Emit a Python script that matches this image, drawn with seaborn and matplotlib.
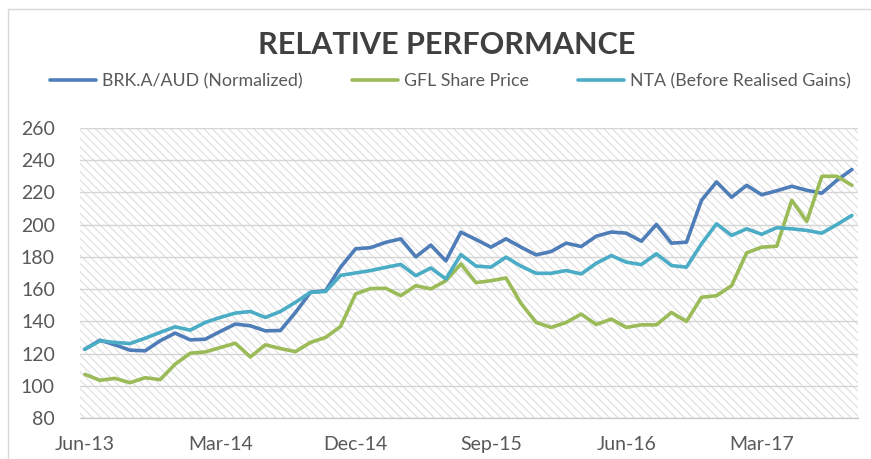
import numpy as np
import pandas as pd
import matplotlib
matplotlib.use("Agg")
import matplotlib.pyplot as plt
import seaborn as sns
from matplotlib.patches import Rectangle
from matplotlib.lines import Line2D

# ---------------------------------------------------------------------------
# Datos (mensuales, Jun-13 .. Sep-17)
# ---------------------------------------------------------------------------
series_names = ["BRK.A/AUD (Normalized)", "GFL Share Price", "NTA (Before Realised Gains)"]

brk = [122.7, 128.3, 125.4, 122.1, 121.7, 127.9, 132.7, 128.5, 128.9, 133.7,
       138.3, 137.2, 134.1, 134.3, 145.5, 158.0, 159.0, 173.6, 185.0, 185.7,
       189.0, 191.2, 180.0, 187.3, 177.5, 195.3, 190.8, 186.0, 191.2, 186.0,
       181.2, 183.3, 188.5, 186.4, 192.8, 195.4, 194.7, 189.7, 200.1, 188.5,
       189.1, 215.1, 226.5, 217.0, 224.4, 218.5, 221.0, 223.8, 221.3, 219.5,
       227.5, 234.2]

gfl = [107.1, 103.4, 104.6, 101.9, 105.0, 103.8, 113.4, 120.2, 121.0, 123.7,
       126.4, 117.9, 125.4, 123.1, 121.2, 126.9, 130.0, 136.8, 157.0, 160.3,
       160.5, 155.9, 162.1, 160.1, 165.2, 175.6, 164.0, 165.2, 166.9, 151.1,
       139.3, 136.2, 139.3, 144.5, 138.0, 141.4, 136.2, 137.8, 137.8, 145.5,
       139.9, 154.9, 155.9, 162.1, 182.5, 186.0, 186.6, 215.1, 202.0, 230.0,
       230.0, 224.4]

nta = [122.7, 127.9, 126.9, 126.2, 129.5, 133.1, 136.6, 134.5, 139.3, 142.4,
       145.1, 146.1, 142.4, 146.1, 151.8, 158.0, 158.5, 168.5, 170.0, 171.5,
       173.5, 175.3, 168.3, 173.1, 166.3, 181.4, 174.3, 173.6, 179.8, 174.2,
       169.8, 169.8, 171.5, 169.4, 176.0, 180.8, 176.7, 175.2, 181.9, 174.6,
       173.6, 188.1, 200.5, 193.3, 197.4, 194.0, 198.1, 197.4, 196.4, 194.7,
       200.0, 205.7]

tick_months = [0, 9, 18, 27, 36, 45]
tick_labels = ["Jun-13", "Mar-14", "Dec-14", "Sep-15", "Jun-16", "Mar-17"]
y_ticks = list(range(80, 261, 20))

colores = {"BRK.A/AUD (Normalized)": "#4F7DB8",
           "GFL Share Price": "#9BBB59",
           "NTA (Before Realised Gains)": "#4BACC6"}

# tabla larga para seaborn
meses = np.arange(len(brk))
df = pd.concat([
    pd.DataFrame({"mes": meses, "valor": brk, "serie": series_names[0]}),
    pd.DataFrame({"mes": meses, "valor": gfl, "serie": series_names[1]}),
    pd.DataFrame({"mes": meses, "valor": nta, "serie": series_names[2]}),
], ignore_index=True)

# ---------------------------------------------------------------------------
# Gráfico
# ---------------------------------------------------------------------------
sns.set_style("white")
plt.rcParams["font.family"] = ["Lato", "DejaVu Sans"]
plt.rcParams["hatch.color"] = "#dedede"
plt.rcParams["hatch.linewidth"] = 0.8

fig = plt.figure(figsize=(8.71, 4.59), dpi=100)
ax = fig.add_axes([0.0918, 0.0893, 0.8932, 0.632])

# fondo rayado tipo Excel
ax.add_patch(Rectangle((0, 0), 1, 1, transform=ax.transAxes, facecolor="white",
                       edgecolor="#dedede", hatch="\\\\\\\\", linewidth=0, zorder=0))

sns.lineplot(data=df, x="mes", y="valor", hue="serie", palette=colores,
             hue_order=series_names, linewidth=2.6, ax=ax, legend=False, zorder=3)

ax.set_xlim(-0.33, 51.4)
ax.set_ylim(80, 260)
ax.set_yticks(y_ticks)
ax.set_xticks(tick_months)
ax.set_xticklabels(tick_labels)
ax.set_xlabel("")
ax.set_ylabel("")

ax.yaxis.grid(True, color="#d4d4d4", linewidth=1.0, zorder=1)
ax.xaxis.grid(False)
for s in ["top", "right", "left"]:
    ax.spines[s].set_visible(False)
ax.spines["bottom"].set_color("#c8c8c8")
ax.spines["bottom"].set_linewidth(1.0)
ax.tick_params(axis="x", length=5, color="#c8c8c8", labelsize=14, labelcolor="#595959", pad=8)
ax.tick_params(axis="y", length=0, labelsize=14, labelcolor="#595959", pad=18)

fig.text(0.513, 0.902, "RELATIVE PERFORMANCE", ha="center", va="center",
         fontsize=22, fontweight="bold", color="#404040")

handles = [Line2D([], [], color=colores[n], linewidth=2.6) for n in series_names]
fig.legend(handles, series_names, loc="center", bbox_to_anchor=(0.517, 0.823), ncol=3,
           frameon=False, fontsize=12.8, labelcolor="#595959", handlelength=2.6,
           handletextpad=0.3, columnspacing=2.8)

# borde del área del gráfico
fig.add_artist(Line2D([0.009, 1.0], [0.98, 0.98], transform=fig.transFigure,
                      color="#d9d9d9", linewidth=1.0))
fig.add_artist(Line2D([0.009, 0.009], [0.0, 0.98], transform=fig.transFigure,
                      color="#d9d9d9", linewidth=1.0))

fig.savefig("out.png", dpi=100)
